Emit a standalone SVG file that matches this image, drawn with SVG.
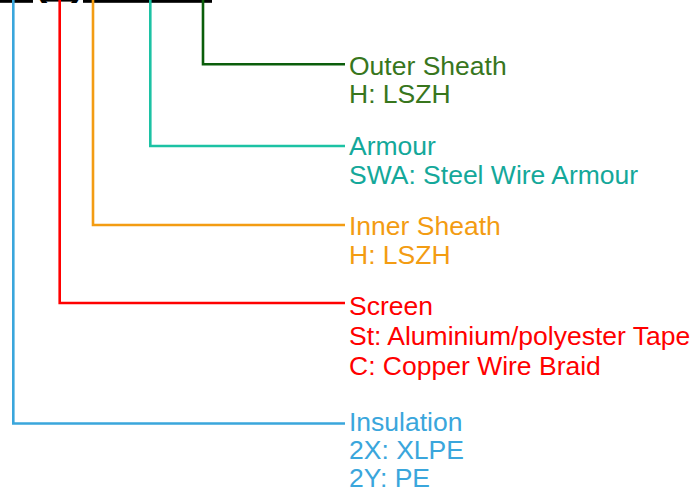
<svg xmlns="http://www.w3.org/2000/svg" width="697" height="490" viewBox="0 0 697 490">
<style>
.t{font-family:"Liberation Sans",Arial,sans-serif;font-size:26.5px}
.c{fill:none;stroke-width:2.6}
.top{font-family:"Liberation Sans",Arial,sans-serif;font-size:40px;font-weight:bold;fill:#000}
.bar{fill:#000}
</style>
<rect width="697" height="490" fill="#fff"/>
<g id="code">
<rect class="bar" x="0" y="0" width="33" height="2.8"/>
<text class="top" x="34" y="-5.3">(</text>
<rect class="bar" x="44" y="0" width="31" height="1.6"/>
<text class="top" x="71" y="-5.3">)</text>
<rect class="bar" x="83" y="0" width="129" height="2.8"/>
</g>
<g id="connectors">
<polyline class="c" stroke="#0b5e0b" points="203,0 203,64.3 345,64.3"/>
<polyline class="c" stroke="#1cc2a4" points="150.3,0 150.3,146 345,146"/>
<polyline class="c" stroke="#f39c12" points="93,0 93,225 345,225"/>
<polyline class="c" stroke="#ff0000" points="59.7,0 59.7,303 345,303"/>
<polyline class="c" stroke="#3aa6dc" points="13.3,0 13.3,423.5 345,423.5"/>
</g>
<g id="outer-sheath" class="t" fill="#38761d">
<text x="349" y="74.5">Outer Sheath</text>
<text x="349" y="103">H: LSZH</text>
</g>
<g id="armour" class="t" fill="#14a89a">
<text x="349" y="155">Armour</text>
<text x="349" y="183.5">SWA: Steel Wire Armour</text>
</g>
<g id="inner-sheath" class="t" fill="#f39c12">
<text x="349" y="235">Inner Sheath</text>
<text x="349" y="264">H: LSZH</text>
</g>
<g id="screen" class="t" fill="#ff0000">
<text x="349" y="315">Screen</text>
<text x="349" y="344.5">St: Aluminium/polyester Tape</text>
<text x="349" y="374.5">C: Copper Wire Braid</text>
</g>
<g id="insulation" class="t" fill="#3aa6dc">
<text x="349" y="431">Insulation</text>
<text x="349" y="459">2X: XLPE</text>
<text x="349" y="487">2Y: PE</text>
</g>
</svg>
